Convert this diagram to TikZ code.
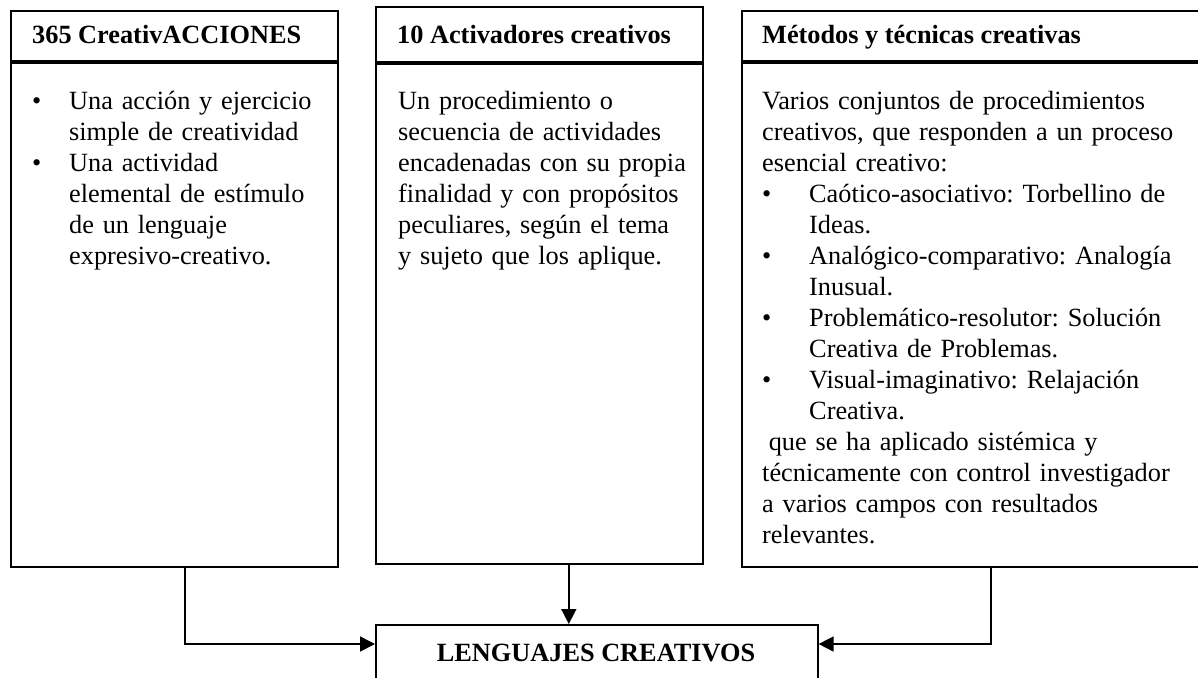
\documentclass[tikz,border=0pt]{standalone}
\usepackage{fontspec}
\setmainfont{Liberation Serif}
\usetikzlibrary{arrows.meta}
\newcommand{\vin}[1]{\makebox[#1][l]{\textbullet}}
\newcommand{\sangr}[1]{\hspace*{#1}}

\begin{document}
\frenchspacing
\fontsize{26.3}{31}\selectfont
\begin{tikzpicture}[x=1pt,y=-1pt,
   box/.style={draw,line width=1.6pt,minimum width=327pt,minimum height=556pt,anchor=north west,inner sep=0pt},
   head/.style={anchor=base west,inner sep=0pt,font=\bfseries},
   body/.style={anchor=base west,inner sep=0pt,text width=#1,align=left},
   hline/.style={line width=4.5pt},
   arr/.style={line width=1.6pt,-{Triangle[length=15pt,width=15pt]}}]
   \clip (0,0) rectangle (1198,677);
   % the three columns
   \node[box] (acc) at (10,10) {};
   \node[box,minimum height=557pt] (act) at (375,6) {};
   \node[box,minimum width=498pt] (met) at (741,10) {};
   \draw[hline] (acc.west |- 0,62) -- (acc.east |- 0,62);
   \draw[hline] (act.west |- 0,63) -- (act.east |- 0,63);
   \draw[hline] (met.west |- 0,62) -- (met.east |- 0,62);
   \node[head] (acch) at (32,44) {365 CreativACCIONES};
   \node[head] (acth) at (397,44) {10 Activadores creativos};
   \node[head] (meth) at (762,44) {Métodos y técnicas creativas};
   \node[body=300pt] (acctxt) at (32,109) {\vin{37pt}Una acción y ejercicio\\
      \sangr{37pt}simple de creatividad\\
      \vin{37pt}Una actividad\\
      \sangr{37pt}elemental de estímulo\\
      \sangr{37pt}de un lenguaje\\
      \sangr{37pt}expresivo-creativo.};
   \node[body=310pt] (acttxt) at (398,109) {Un procedimiento o\\
      secuencia de actividades\\
      encadenadas con su propia\\
      finalidad y con propósitos\\
      peculiares, según el tema\\
      y sujeto que los aplique.};
   \node[body=440pt] (mettxt) at (762,109) {Varios conjuntos de procedimientos\\
      creativos, que responden a un proceso\\
      esencial creativo:\\
      \vin{47pt}Caótico-asociativo: Torbellino de\\
      \sangr{47pt}Ideas.\\
      \vin{47pt}Analógico-comparativo: Analogía\\
      \sangr{47pt}Inusual.\\
      \vin{47pt}Problemático-resolutor: Solución\\
      \sangr{47pt}Creativa de Problemas.\\
      \vin{47pt}Visual-imaginativo: Relajación\\
      \sangr{47pt}Creativa.\\
      \sangr{0.25em}que se ha aplicado sistémica y\\
      técnicamente con control investigador\\
      a varios campos con resultados\\
      relevantes.};
   % result
   \node[draw,line width=1.6pt,minimum width=442pt,minimum height=80pt,anchor=north west,inner sep=0pt] (leng) at (375,624) {};
   \node[anchor=base,inner sep=0pt,font=\bfseries] (lengtxt) at (596,661) {LENGUAJES CREATIVOS};
   \coordinate (entl) at ([yshift=-20pt]leng.north west);
   \coordinate (entr) at ([yshift=-20pt]leng.north east);
   \draw[arr] ([xshift=10.5pt]acc.south) |- (entl);
   \draw[arr] ([xshift=29.5pt]act.south) -- ([xshift=29.5pt]act.south |- leng.north);
   \draw[arr] (met.south) |- (entr);
\end{tikzpicture}
\end{document}
